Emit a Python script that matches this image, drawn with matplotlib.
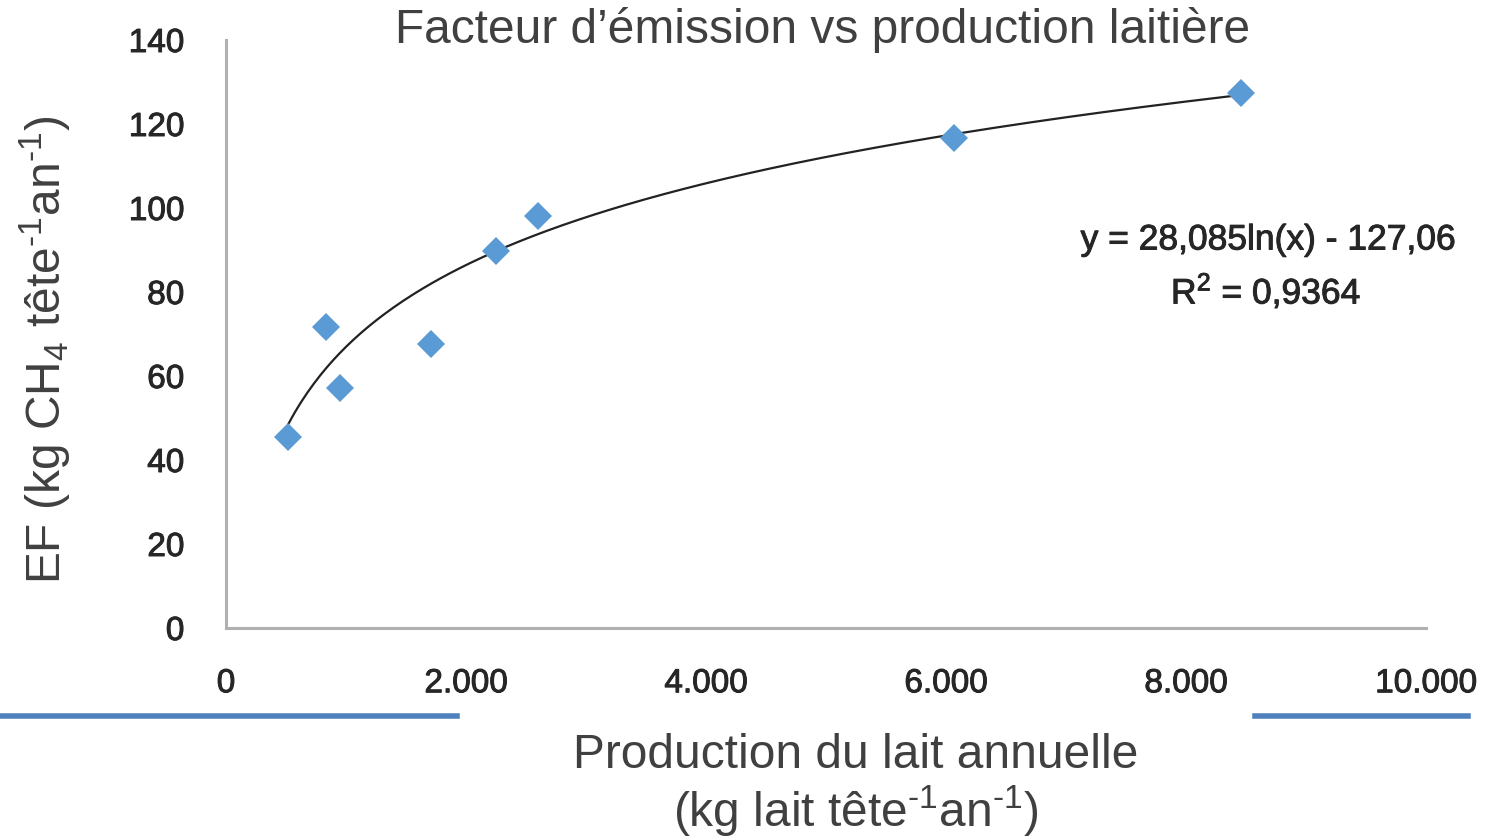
import matplotlib.pyplot as plt
import matplotlib.patheffects as pe
from matplotlib.lines import Line2D
import numpy as np

plt.rcParams["mathtext.fontset"] = "custom"
plt.rcParams["mathtext.rm"] = "Liberation Sans"
plt.rcParams["mathtext.it"] = "Liberation Sans:italic"
plt.rcParams["mathtext.default"] = "rm"

# milk production (kg/head/yr) and emission factor (kg CH4/head/yr)
production = [520, 830, 950, 1710, 2250, 2600, 6070, 8460]
emission = [45.5, 71.7, 57.1, 67.6, 89.8, 98.1, 116.7, 127.4]

# trend line coefficients as printed on the chart
slope = 28.085
intercept = -127.06
r2_label = "R$^2$ = 0,9364"
eq_label = "y = 28,085ln(x) - 127,06"

x_ticks = [0, 2000, 4000, 6000, 8000, 10000]
x_tick_labels = ["0", "2.000", "4.000", "6.000", "8.000", "10.000"]
y_ticks = [0, 20, 40, 60, 80, 100, 120, 140]

fig = plt.figure(figsize=(14.93, 8.36), dpi=100)
W, H = 1493, 836
ax = fig.add_axes([226 / W, 208 / H, (1426 - 226) / W, (628 - 40) / H])

tick_font = dict(family="Liberation Sans")
# slightly heavier strokes, the original labels are semi-bold
thick = [pe.withStroke(linewidth=0.7, foreground="#262626")]

xs = np.linspace(min(production), max(production), 300)
ax.plot(xs, slope * np.log(xs) + intercept, color="#222222", lw=1.6, zorder=2)
ax.plot(production, emission, "D", color="#5b9bd5", markersize=14.5,
        markeredgewidth=0, zorder=3)

ax.set_xlim(0, 10000)
ax.set_ylim(0, 140)
ax.set_xticks(x_ticks)
ax.set_xticklabels(x_tick_labels, fontsize=24, color="#262626", **tick_font)
ax.set_yticks(y_ticks)
ax.set_yticklabels([str(v) for v in y_ticks], fontsize=24, color="#262626", **tick_font)
ax.tick_params(axis="x", length=0, pad=29)
ax.tick_params(axis="y", length=0, pad=30)
for lbl in ax.get_xticklabels() + ax.get_yticklabels():
    lbl.set_path_effects(thick)

for s in ["top", "right"]:
    ax.spines[s].set_visible(False)
for s in ["left", "bottom"]:
    ax.spines[s].set_color("#b0b0b0")
    ax.spines[s].set_linewidth(2.2)

fig.text(1268 / W, 1 - 240 / H, eq_label, ha="center", va="center",
         fontsize=25.5, color="#262626", path_effects=thick, **tick_font)
fig.text(1266 / W, 1 - 291 / H, r2_label, ha="center", va="center",
         fontsize=25.5, color="#262626", path_effects=thick, **tick_font)

label_font = dict(fontsize=34.5, color="#404040", family="Liberation Sans")
fig.text(823 / W, 1 - 30 / H, "Facteur d’émission vs production laitière",
         ha="center", va="center", **label_font)
fig.text(45 / W, 1 - 350 / H, r"EF (kg CH$_4$ tête$^{\text{-1}}$an$^{\text{-1}}$)", rotation=90,
         ha="center", va="center", **label_font)
fig.text(856 / W, 1 - 755 / H, "Production du lait annuelle",
         ha="center", va="center", **label_font)
fig.text(856 / W, 1 - 811 / H, r"(kg lait tête$^{\text{-1}}$an$^{\text{-1}}$)",
         ha="center", va="center", **label_font)

# decorative slide rules under the x axis
fig.add_artist(Line2D([0, 457 / W], [1 - 716 / H] * 2, color="#4f81bd", lw=4))
fig.add_artist(Line2D([1255 / W, 1468 / W], [1 - 716 / H] * 2, color="#4f81bd", lw=4))

fig.savefig("out.png", dpi=100)
